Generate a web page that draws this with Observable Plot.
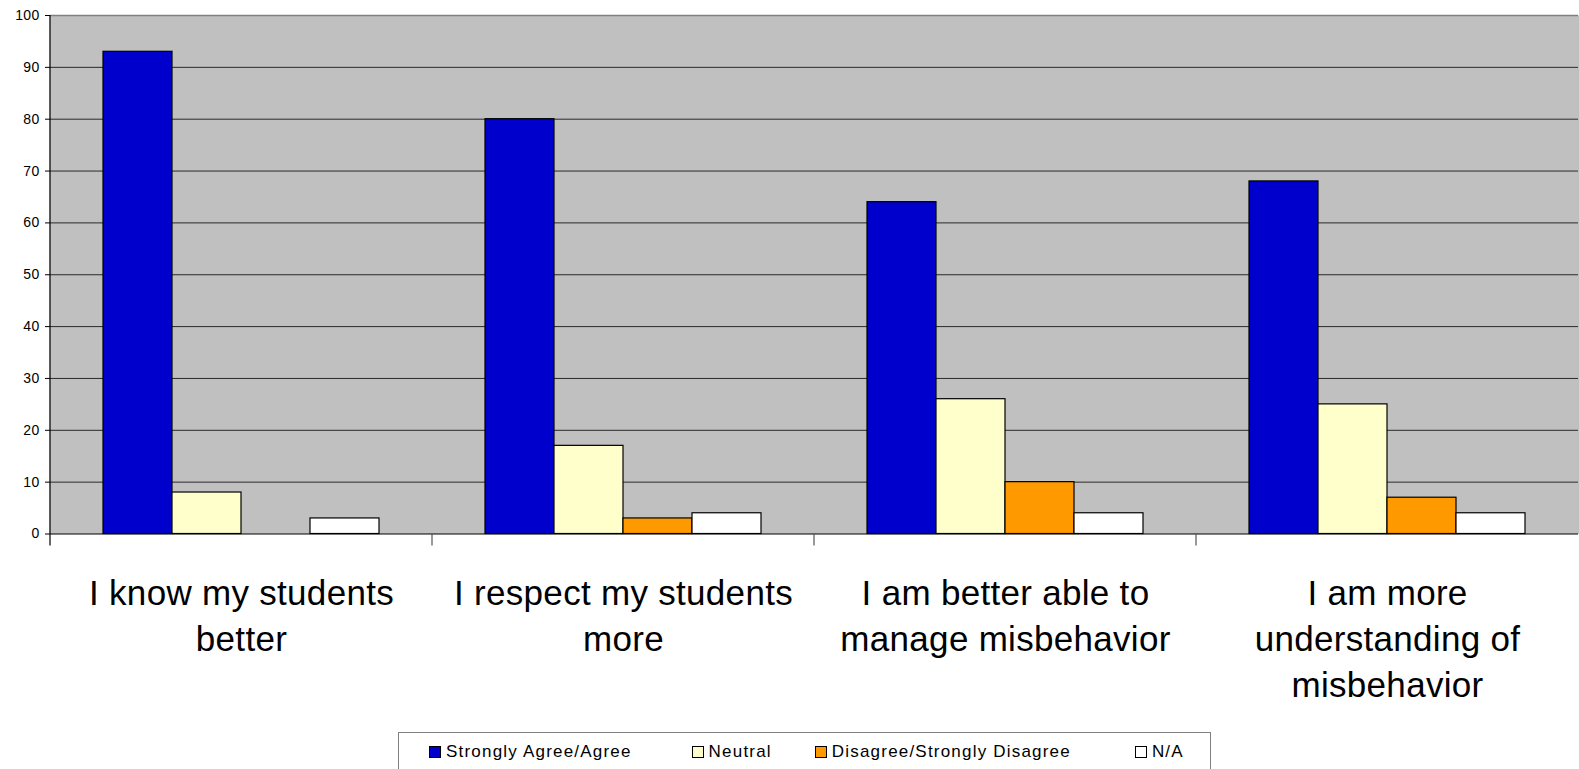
<!DOCTYPE html>
<html>
<head>
<meta charset="utf-8">
<script src="https://cdn.jsdelivr.net/npm/d3@7"></script>
<script src="https://cdn.jsdelivr.net/npm/@observablehq/plot@0.6"></script>
<style>
  html, body { margin: 0; padding: 0; background: white; overflow: hidden; }
  #chart { position: relative; width: 1579px; height: 769px; }
  g[aria-label="fx-axis tick label"] { letter-spacing: 0.3px; }
  g[aria-label="y-axis tick label"] { letter-spacing: 0.3px; }
  #legend {
    position: absolute; left: 398px; top: 732px; width: 813px; height: 40px;
    border: 1px solid #808080; box-sizing: border-box;
    display: flex; align-items: center; padding-left: 30px;
    font-family: "Liberation Sans", Arial, sans-serif; font-size: 17px; letter-spacing: 1.2px; color: black;
  }
  .item { display: flex; align-items: center; white-space: nowrap; }
  .item:nth-child(2) { margin-left: 60px; }
  .item:nth-child(3) { margin-left: 43px; }
  .item:nth-child(4) { margin-left: 64px; }
  .sw { width: 10px; height: 10px; border: 1px solid black; margin-right: 5px; }
</style>
</head>
<body>
<div id="chart"></div>
<script>
const categories = ["I know my students better", "I respect my students more", "I am better able to manage misbehavior", "I am more understanding of misbehavior"];
const categoryLabels = ["I know my students\nbetter", "I respect my students\nmore", "I am better able to\nmanage misbehavior", "I am more\nunderstanding of\nmisbehavior"];
const series = ["Strongly Agree/Agree", "Neutral", "Disagree/Strongly Disagree", "N/A"];
const colors = ["#0000CC", "#FFFFCC", "#FF9900", "#FFFFFF"];
const agree = [93, 80, 64, 68];
const neutral = [8, 17, 26, 25];
const disagree = [0, 3, 10, 7];
const na = [3, 4, 4, 4];
const yTicks = [0, 10, 20, 30, 40, 50, 60, 70, 80, 90, 100];

const seriesValues = [agree, neutral, disagree, na];
const data = [];
categories.forEach((c, i) => {
  series.forEach((s, j) => {
    data.push({category: c, series: s, value: seriesValues[j][i]});
  });
});

const H = 730;
const plot = Plot.plot({
  width: 1579,
  height: H,
  marginLeft: 50,
  marginRight: 1,
  marginTop: 15,
  marginBottom: H - 533.5,
  style: {fontFamily: "'Liberation Sans', Arial, sans-serif", background: "white", color: "black", overflow: "visible"},
  fx: {domain: categories, padding: 0, label: null, axis: null},
  x: {domain: series, paddingInner: 0, paddingOuter: 0.745, axis: null},
  y: {domain: [0, 100], axis: null},
  color: {domain: series, range: colors},
  marks: [
    Plot.frame({fill: "#C0C0C0", stroke: null, insetLeft: -1, insetRight: -1}),
    Plot.ruleY(yTicks.filter(d => d > 0 && d < 100), {stroke: "#2a2a2a", strokeWidth: 1}),
    Plot.ruleY([100], {stroke: "#808080", strokeWidth: 1.5}),
    Plot.barY(data.filter(d => d.value > 0), {fx: "category", x: "series", y: "value", fill: "series", stroke: "black", strokeWidth: 1.2}),
    Plot.ruleY([0], {stroke: "black", strokeWidth: 1.2}),
    Plot.axisY({ticks: yTicks, tickSize: 5, tickPadding: 6, fontSize: 14, tickFormat: d => String(d), anchor: "left", label: null}),
    Plot.axisFx({anchor: "bottom", tickSize: 0, tickPadding: 38, fontSize: 35, lineHeight: 1.32, label: null,
      tickFormat: d => categoryLabels[categories.indexOf(d)]})
  ]
});

document.getElementById("chart").appendChild(plot);

// axis line and group boundary ticks, positioned with the plot's own scales
const fx = plot.scale("fx");
const y = plot.scale("y");
const svg = d3.select(plot);
const y0 = y.apply(0), y100 = y.apply(100);
const g = svg.append("g").attr("stroke", "black").attr("stroke-width", 1.2);
g.append("line").attr("x1", fx.apply(categories[0])).attr("x2", fx.apply(categories[0]))
  .attr("y1", y100).attr("y2", y0 + 12);
categories.slice(1).forEach(c => {
  const xx = fx.apply(c);
  g.append("line").attr("x1", xx).attr("x2", xx).attr("y1", y0).attr("y2", y0 + 12).attr("stroke", "#555");
});

// legend
const legend = document.createElement("div");
legend.id = "legend";
series.forEach((s, j) => {
  const item = document.createElement("div");
  item.className = "item";
  const sw = document.createElement("span");
  sw.className = "sw";
  sw.style.background = colors[j];
  const t = document.createElement("span");
  t.textContent = s;
  item.appendChild(sw);
  item.appendChild(t);
  legend.appendChild(item);
});
document.getElementById("chart").appendChild(legend);
</script>
</body>
</html>
